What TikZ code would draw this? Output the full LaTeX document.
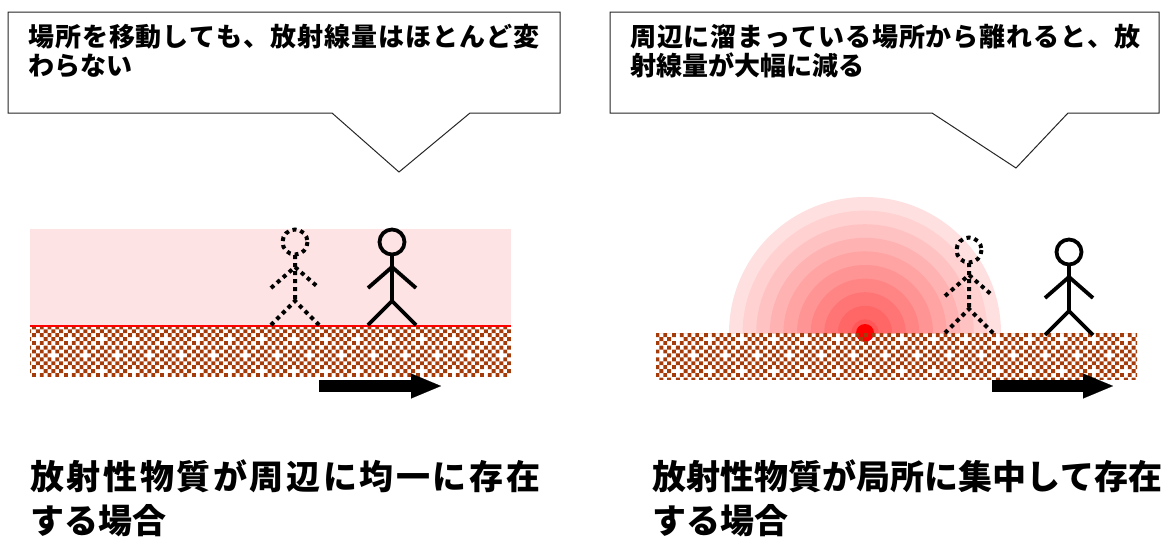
\documentclass[tikz,border=0pt]{standalone}
\usepackage{fontspec}
\setmainfont{Noto Sans CJK JP}
\usetikzlibrary{positioning, arrows.meta, patterns}
\definecolor{soilbrown}{HTML}{A33C0A}
\definecolor{hazepink}{HTML}{FDE3E3}

% set a line of kana/kanji spread evenly to a given width
\makeatletter
\newcommand\spreadline[2]{\hbox to #1{\@tfor\ch:=#2\do{\ch\hfil}\unskip}}
\makeatother

% soil: small checker with a white cross every 16pt
\pgfdeclarepatternformonly{soil}{\pgfqpoint{0pt}{0pt}}{\pgfqpoint{32pt}{32pt}}{\pgfqpoint{32pt}{32pt}}{%
  \foreach \i in {0,...,7}{%
    \foreach \j in {0,...,7}{%
      \pgfmathtruncatemacro\keep{(mod(\i+\j,2)==0) && !((\i==\j) && ((\i==1) || (\i==5)))}%
      \ifnum\keep=1
        \pgfpathrectangle{\pgfpoint{\i*4pt}{\j*4pt}}{\pgfqpoint{4pt}{4pt}}%
        \pgfusepath{fill}%
      \fi
    }%
  }%
}

\tikzset{
  walker/.pic={
    \draw[pic actions] (0,-83) circle[radius=12.5];
    \draw[pic actions] (0,-70) -- (0,-24)
      (-24,-37) -- (0,-58) -- (24,-37)
      (-24,0) -- (0,-24) -- (24,0);
  },
}

\begin{document}
\begin{tikzpicture}[x=1pt, y=-1pt,
    balloon/.style={draw=black!85, line width=1pt, fill=white},
    notetext/.style={anchor=base west, inner sep=0pt, font=\fontsize{26}{30}\selectfont\bfseries},
    caption/.style={anchor=base west, inner sep=0pt, font=\fontsize{34}{44}\selectfont\bfseries},
    ground/.style={pattern=soil, pattern color=soilbrown},
    stick/.style={line width=3.8pt},
    ghost/.style={line width=4pt, dash pattern=on 4pt off 4pt},
    movearrow/.style={line width=12pt, -{Triangle[length=30pt, width=25pt, line width=0.1pt]}}]
  \useasboundingbox (0,0) rectangle (1161,536);

  % speech balloons
  \draw[balloon] (8,12) -- (560,12) -- (560,113) -- (470,113) -- (399,172)
    -- (332,113) -- (8,113) -- cycle;
  \draw[balloon] (610,12) -- (1159,12) -- (1159,113) -- (1068,113) -- (1016,168)
    -- (932,113) -- (610,113) -- cycle;
  \node[notetext] (noteL) at (28,46) {\spreadline{511pt}{場所を移動しても、放射線量はほとんど変}};
  \node[notetext, below=29pt of noteL.base west, anchor=base west] (noteLb) {わらない};
  \node[notetext] (noteR) at (630,46) {\spreadline{510pt}{周辺に溜まっている場所から離れると、放}};
  \node[notetext, below=29pt of noteR.base west, anchor=base west] (noteRb) {射線量が大幅に減る};

  % left: evenly spread source
  \fill[hazepink] (30,229) rectangle (511,326);
  \fill[ground] (30,326) rectangle (511,376);
  \draw[red, line width=2pt] (30,326) -- (511,326);
  \pic[ghost] at (295,325) {walker};
  \pic[stick] at (392,325) {walker};
  \coordinate (goL0) at (319,386);
  \coordinate (goL1) at (441,386);
  \draw[movearrow] (goL0) -- (goL1);

  % right: point source with falling dose
  \coordinate (src) at (865,333);
  \foreach \k [evaluate=\k as \rad using 136-13.6*\k,
               evaluate=\k as \pct using int(12+6*\k)] in {0,...,9}
    \fill[red!\pct] (865-\rad,333) arc[start angle=180, end angle=360, radius=\rad];
  \fill[red] (src) circle[radius=9];
  \fill[ground] (656,333) rectangle (1137,379);
  \pic[ghost] at (969,333) {walker};
  \pic[stick] at (1069,335) {walker};
  \coordinate (goR0) at (992,386);
  \coordinate (goR1) at (1113,386);
  \draw[movearrow] (goR0) -- (goR1);

  % captions
  \node[caption] (capL) at (30,489) {\spreadline{510pt}{放射性物質が周辺に均一に存在}};
  \node[caption, below=44pt of capL.base west, anchor=base west] (capLb) {する場合};
  \node[caption] (capR) at (652,489) {\spreadline{508pt}{放射性物質が局所に集中して存在}};
  \node[caption, below=44pt of capR.base west, anchor=base west] (capRb) {する場合};
\end{tikzpicture}
\end{document}
